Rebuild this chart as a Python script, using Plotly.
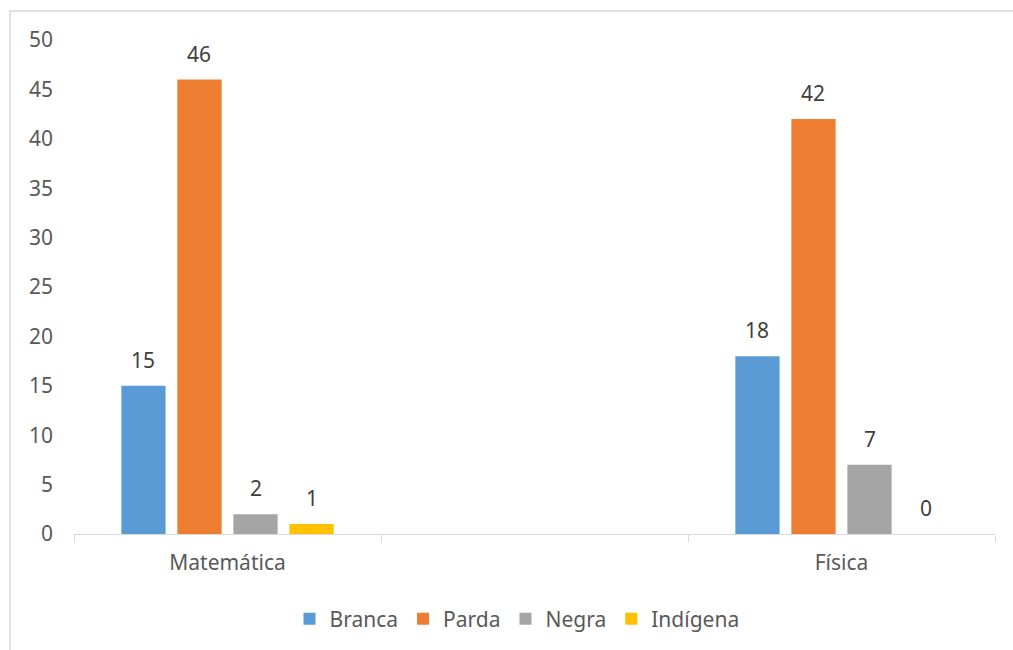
import plotly.graph_objects as go

categories = ["Matemática", " ", "Física"]
series_names = ["Branca", "Parda", "Negra", "Indígena"]
branca = [15, None, 18]
parda = [46, None, 42]
negra = [2, None, 7]
indigena = [1, None, 0]
colors = ["#5B9BD5", "#ED7D31", "#A5A5A5", "#FFC000"]
y_ticks = [0, 5, 10, 15, 20, 25, 30, 35, 40, 45, 50]

FONT = "Noto Sans"
FS = 21
BARGAP = 0.27
fig = go.Figure()
all_series = [branca, parda, negra, indigena]
for name, vals, col in zip(series_names, all_series, colors):
    fig.add_trace(go.Bar(
        name=name, x=categories, y=vals, marker_color=col,
        marker_line_width=0,
    ))

# data labels placed above each bar
n = len(all_series)
slot = (1 - BARGAP) / n
for si, vals in enumerate(all_series):
    off = (si - (n - 1) / 2) * slot
    for ci, v in enumerate(vals):
        if v is None:
            continue
        fig.add_annotation(
            x=ci + off, y=v, xref="x", yref="y", text=str(v), showarrow=False,
            yanchor="bottom", yshift=10,
            font=dict(family=FONT, size=FS, color="#404040"),
        )

L, R, T, B = 74, 18, 40, 115
W, H = 1013, 650
pw, ph = W - L - R, H - T - B

fig.update_layout(
    width=W, height=H,
    margin=dict(l=L, r=R, t=T, b=B),
    paper_bgcolor="white", plot_bgcolor="white",
    barmode="group", bargap=BARGAP, bargroupgap=0.21,
    font=dict(family=FONT, size=FS, color="#595959"),
    showlegend=True,
    legend=dict(orientation="h", x=0.481, xanchor="center", y=(535 - 619) / ph, yanchor="middle",
                font=dict(family=FONT, size=FS, color="#595959"), itemwidth=30,
                traceorder="normal"),
)
fig.update_xaxes(
    type="category", categoryorder="array", categoryarray=categories,
    range=[-0.5, 2.5],
    showline=True, linecolor="#D9D9D9", linewidth=1,
    ticks="outside", tickson="boundaries", ticklen=7, tickcolor="#D9D9D9",
    showgrid=False, zeroline=False, ticklabelstandoff=10,
    tickfont=dict(family=FONT, size=FS, color="#595959"),
)
fig.update_yaxes(
    range=[0, 50], tickvals=y_ticks, showgrid=False, zeroline=False,
    showline=False, ticks="", ticklabelstandoff=20,
    tickfont=dict(family=FONT, size=FS, color="#595959"),
)
fig.add_shape(
    type="rect", xref="paper", yref="paper",
    x0=(10 - L) / pw, x1=(1030 - L) / pw,
    y0=(535 - 670) / ph, y1=(535 - 11) / ph,
    line=dict(color="#D9D9D9", width=1.5), fillcolor="rgba(0,0,0,0)", layer="below",
)
fig.write_html("out.html")
